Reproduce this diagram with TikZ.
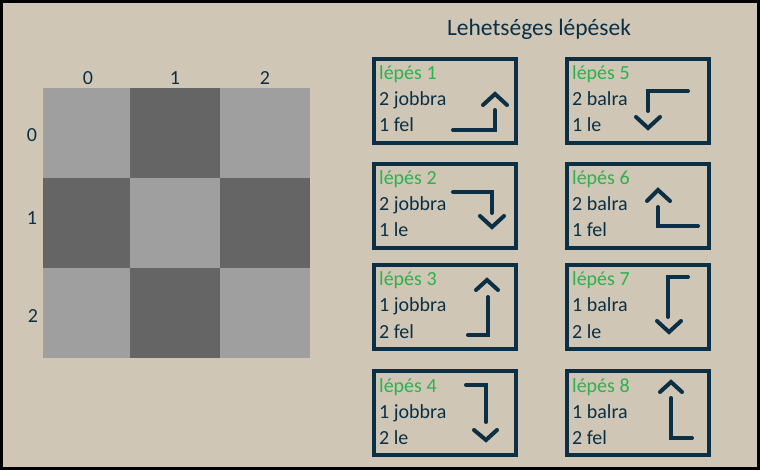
\documentclass[tikz,border=0pt]{standalone}
\usepackage{fontspec}
\setmainfont{Carlito}
\definecolor{bgbeige}{HTML}{CFC6B5}
\definecolor{celllight}{HTML}{9F9F9F}
\definecolor{celldark}{HTML}{656565}
\definecolor{navy}{HTML}{0B3045}
\definecolor{stepgreen}{HTML}{2DB24C}
\tikzset{
  stepbox/.style={draw=navy, line width=4pt, minimum width=142pt, minimum height=84pt, inner sep=0pt, anchor=north west},
  steptxt/.style={anchor=base west, inner sep=0pt, text=navy, font=\fontsize{20}{24}\selectfont},
  gridlbl/.style={text=navy, font=\fontsize{20}{24}\selectfont},
  move/.style={draw=navy, line width=4pt, line cap=round, line join=miter}
}
\begin{document}
\begin{tikzpicture}[x=1pt,y=-1pt]
  \useasboundingbox (0,0) rectangle (760,470);
  \fill[bgbeige] (0,0) rectangle (760,470);
  \draw[black, line width=3pt] (1.5,1.5) rectangle (758.5,468.5);
  % grid
  \fill[celllight] (43,88) rectangle (130,178);
  \fill[celldark] (130,88) rectangle (220,178);
  \fill[celllight] (220,88) rectangle (310,178);
  \fill[celldark] (43,178) rectangle (130,268);
  \fill[celllight] (130,178) rectangle (220,268);
  \fill[celldark] (220,178) rectangle (310,268);
  \fill[celllight] (43,268) rectangle (130,358);
  \fill[celldark] (130,268) rectangle (220,358);
  \fill[celllight] (220,268) rectangle (310,358);
  \node[gridlbl] (col0) at (88,78) {0};
  \node[gridlbl] (col1) at (175,78) {1};
  \node[gridlbl] (col2) at (265,78) {2};
  \node[gridlbl] (row0) at (32,135) {0};
  \node[gridlbl] (row1) at (32,218) {1};
  \node[gridlbl] (row2) at (33,316) {2};
  % boxes
  \node[anchor=base, text=navy, font=\fontsize{23.5}{28}\selectfont] (title) at (539,36) {Lehetséges lépések};
  \foreach \n/\x/\y/\a/\b in {1/372/57/2 jobbra/1 fel, 2/372/162/2 jobbra/1 le,
      3/372/263/1 jobbra/2 fel, 4/372/369/1 jobbra/2 le,
      5/565/57/2 balra/1 le, 6/565/162/2 balra/1 fel,
      7/565/263/1 balra/2 le, 8/565/369/1 balra/2 fel}{
    \node[stepbox] (step\n) at (\x,\y) {};
    \node[steptxt, text=stepgreen] (head\n) at ([xshift=7pt,yshift=-23pt]step\n.north west) {lépés \n};
    \node[steptxt] (line\n a) at ([xshift=7pt,yshift=-49pt]step\n.north west) {\a};
    \node[steptxt] (line\n b) at ([xshift=7pt,yshift=-75pt]step\n.north west) {\b};
  }
  % moves
  \draw[move] (453,130) -- (495,130) -- (495,110);
  \draw[move] (483,105) -- (495,94) -- (507,105);
  \draw[move] (453,192) -- (492,192) -- (492,213);
  \draw[move] (480,216) -- (492,227) -- (504,216);
  \draw[move] (468,335) -- (488,335) -- (488,297);
  \draw[move] (476,290) -- (487,280) -- (498,290);
  \draw[move] (466,385) -- (486,385) -- (486,422);
  \draw[move] (474,430) -- (486,440) -- (497,430);
  \draw[move] (688,91) -- (648,91) -- (648,111);
  \draw[move] (636,117) -- (648,128) -- (660,117);
  \draw[move] (698,226) -- (658,226) -- (658,207);
  \draw[move] (647,201) -- (658,190) -- (670,201);
  \draw[move] (688,277) -- (668,277) -- (668,317);
  \draw[move] (657,321) -- (669,332) -- (681,321);
  \draw[move] (692,438) -- (671,438) -- (671,398);
  \draw[move] (660,392) -- (671,382) -- (682,392);
\end{tikzpicture}
\end{document}
